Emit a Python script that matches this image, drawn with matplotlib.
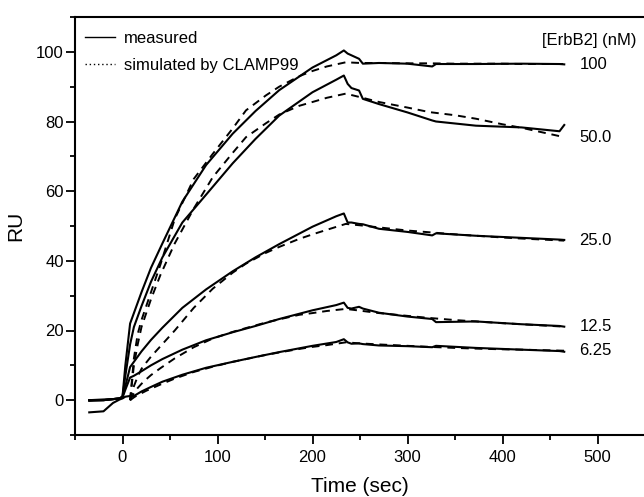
import matplotlib
matplotlib.use("Agg")
import matplotlib.pyplot as plt
from matplotlib.lines import Line2D
from matplotlib.ticker import MultipleLocator

plt.rcParams["font.family"] = ["Liberation Sans", "DejaVu Sans"]

# measured sensorgrams (shared time grid, sec)
T_MEAS = [-35, -20, -10, -3, 0, 3, 8, 12, 20, 30, 42, 63, 88, 116, 140, 165, 200, 225, 233,
          237, 241, 249, 253, 270, 300, 326, 330, 372, 420, 460, 465]
meas_100 = [0, 0, 0.3, 0.5, 1, 10, 22, 25, 31, 38, 45, 57, 67.5, 76.5, 83, 89, 95.5, 99, 100.4,
            99.5, 99, 98, 96.6, 96.8, 96.6, 95.8, 96.5, 96.5, 96.6, 96.5, 96.4]
meas_50 = [0, 0, 0.3, 0.5, 1, 7, 16, 21, 27, 34, 41, 51, 59, 68, 75, 81.7, 88.4, 92, 93.2,
           90.8, 89.6, 88.9, 86.5, 85, 82.6, 80.3, 80, 78.8, 78.3, 77.2, 79]
meas_25 = [0, 0.2, 0.3, 0.5, 1, 4, 9.5, 11, 14, 17.3, 20.8, 26.5, 31.8, 37, 41, 44.8, 49.8, 52.8, 53.6,
           51, 51, 50.6, 50.5, 49.2, 48.3, 47.3, 47.9, 47.2, 46.6, 46.1, 46]
meas_12 = [-0.2, 0, 0.3, 0.5, 0.7, 3, 6.5, 7, 8.3, 10, 11.8, 14.5, 17.2, 19.5, 21.3, 23.3, 25.8, 27.3, 28,
           26.5, 26.3, 26.8, 26.3, 25.1, 24, 23.3, 22.4, 22.6, 21.8, 21.3, 21.1]
meas_6 = [-3.5, -3.2, -0.8, 0.2, 0.5, 1.0, 1.2, 1.2, 2.5, 3.8, 5.3, 7.3, 9.3, 11, 12.4, 13.8, 15.6, 16.7, 17.5,
          16.6, 16.2, 16.3, 16.1, 15.7, 15.5, 15.2, 15.6, 15, 14.5, 14.1, 13.9]

# CLAMP99 simulations
T_SIM = [8, 12, 16, 20, 25, 30, 40, 55, 75, 95, 116, 130, 151, 165, 186, 200, 215, 235,
         250, 270, 300, 323, 350, 372, 400, 420, 465]
sim_100 = [0, 12, 19, 23, 27, 31, 39, 52, 63.5, 70.7, 78, 83.2, 87.5, 90, 93, 94.5, 95.8, 97,
           96.8, 96.8, 96.7, 96.7, 96.6, 96.6, 96.6, 96.5, 96.5]
sim_50 = [0, 10, 16, 21, 25, 29, 36, 45, 55, 64, 71, 75.5, 79.5, 82, 84.5, 85.6, 86.8, 88,
          87, 85.6, 84, 82.7, 81.8, 80.8, 79.2, 78.2, 75.5]
sim_25 = [0, 4, 6.8, 9, 10.8, 12.5, 15.5, 20, 26.5, 32, 36.6, 39.2, 42.3, 44, 46.3, 47.6, 48.9, 50.6,
          50.2, 49.6, 48.7, 48.2, 47.6, 47.2, 46.7, 46.4, 45.8]
sim_12 = [0, 2, 3.5, 4.7, 6, 7.2, 9.2, 12, 15.2, 17.7, 19.6, 20.7, 22.3, 23.2, 24.5, 25, 25.6, 26.2,
          25.7, 25, 24.2, 23.6, 23, 22.6, 22.1, 21.8, 21.1]
sim_6 = [0, 0.8, 1.5, 2, 2.7, 3.3, 4.5, 6.2, 8.1, 9.6, 11, 11.8, 13, 13.7, 14.7, 15.3, 15.8, 16.6,
         16.3, 16, 15.6, 15.3, 15, 14.8, 14.6, 14.5, 14.2]

conc_labels = ["100", "50.0", "25.0", "12.5", "6.25"]
measured = [meas_100, meas_50, meas_25, meas_12, meas_6]
simulated = [sim_100, sim_50, sim_25, sim_12, sim_6]

fig = plt.figure(figsize=(6.44, 4.97), dpi=100)
ax = fig.add_axes([75 / 644, 62 / 497, 570 / 644, 418 / 497])

for m, s, lab in zip(measured, simulated, conc_labels):
    ax.plot(T_MEAS, m, color="black", lw=1.5, solid_joinstyle="round")
    ax.plot(T_SIM, s, color="black", lw=1.4, linestyle=(0, (4, 3)))
    ax.text(481, s[-1], lab, fontsize=12, va="center", ha="left")

ax.text(491, 103.2, "[ErbB2] (nM)", fontsize=12, va="center", ha="center")

ax.set_xlim(-50, 550)
ax.set_ylim(-10, 110)
ax.xaxis.set_minor_locator(MultipleLocator(50))
ax.yaxis.set_minor_locator(MultipleLocator(10))
ax.set_xticks([0, 100, 200, 300, 400, 500])
ax.set_yticks([0, 20, 40, 60, 80, 100])
ax.tick_params(which="major", direction="out", length=6.5, width=1.3, labelsize=12)
ax.tick_params(which="minor", direction="out", length=3.6, width=1.3)
ax.tick_params(axis="x", which="major", pad=4)
ax.tick_params(axis="y", which="major", pad=1.5)
ax.tick_params(top=False, right=False)
for side in ["left", "bottom", "top"]:
    ax.spines[side].set_linewidth(1.5)
ax.spines["right"].set_visible(False)

ax.set_xlabel("Time (sec)", fontsize=15, labelpad=9)
ax.set_ylabel("RU", fontsize=15, labelpad=8)

handles = [Line2D([], [], color="black", lw=1.0),
           Line2D([], [], color="black", lw=1.0, linestyle=(0, (1, 2)))]
ax.legend(handles, ["measured", "simulated by CLAMP99"], loc="upper left",
          bbox_to_anchor=(0.0175, 0.966), frameon=False, fontsize=12,
          handlelength=1.8, handletextpad=0.55, labelspacing=0.68, borderpad=0,
          borderaxespad=0)

fig.savefig("out.png", dpi=100)
